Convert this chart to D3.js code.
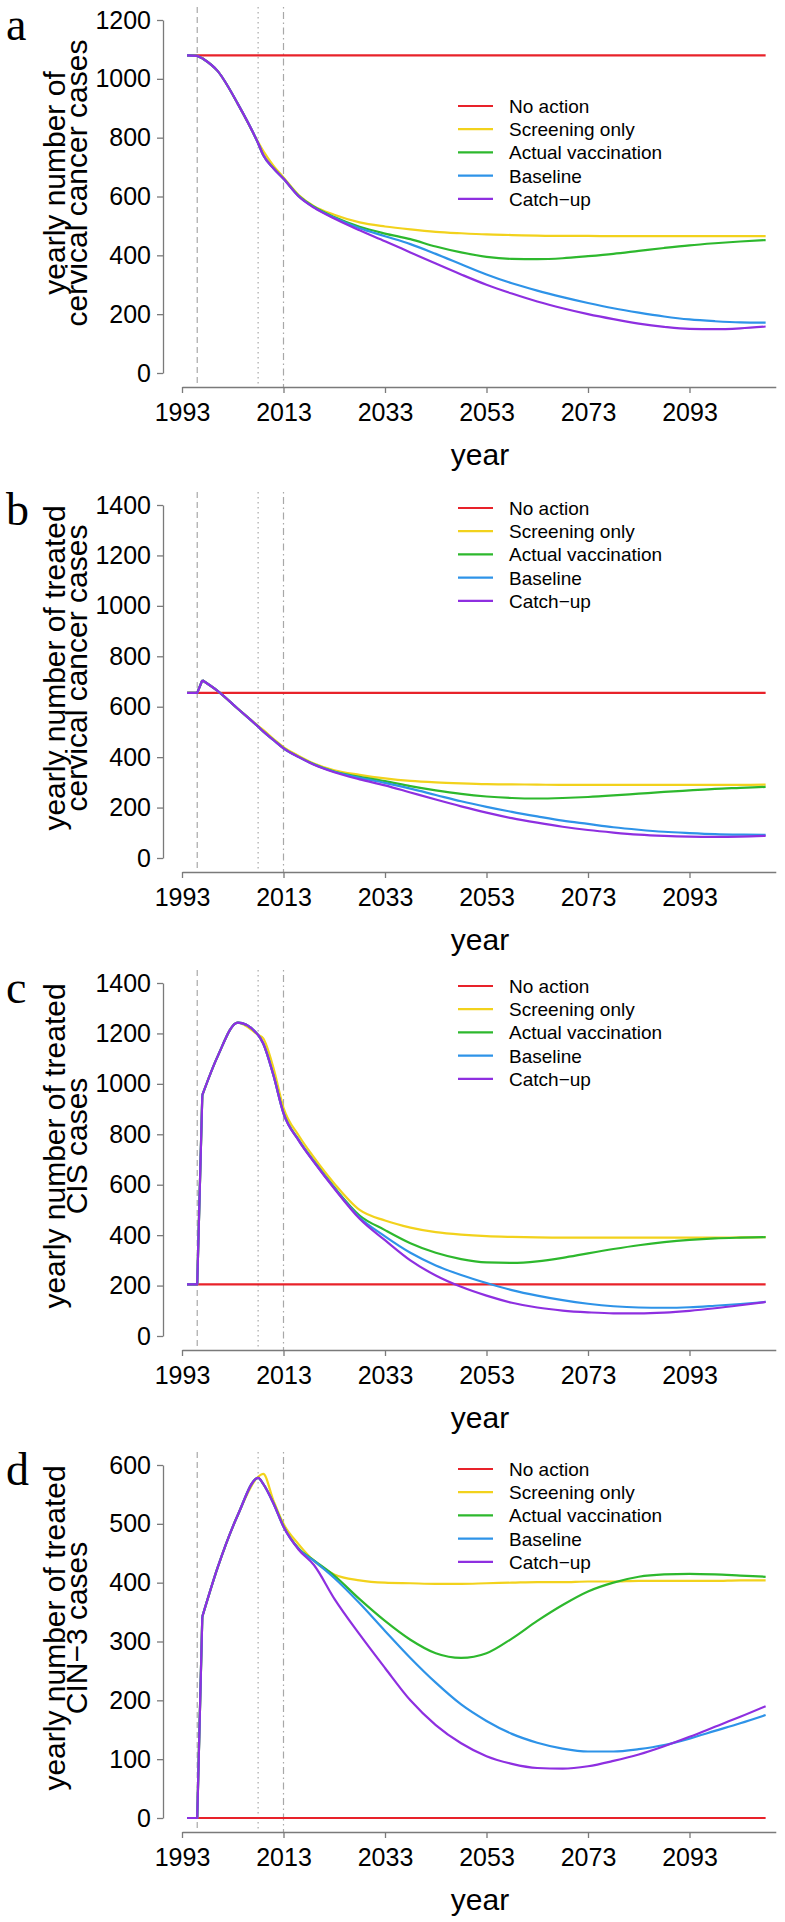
<!DOCTYPE html>
<html lang="en">
<head>
<meta charset="UTF-8">
<title>Cervical cancer scenarios</title>
<script src="https://d3js.org/d3.v7.min.js"></script>
<style>
    body { margin: 0; background: #fff; }
    svg { display: block; }
    .tick text { font-family: "Liberation Sans", Arial, Helvetica, sans-serif; font-size: 25px; fill: #000; }
    .axis path, .axis line { stroke: #7a7a7a; stroke-width: 1.3px; }
    .lab { font-family: "Liberation Sans", Arial, Helvetica, sans-serif; font-size: 30px; fill: #000; }
    .leg { font-family: "Liberation Sans", Arial, Helvetica, sans-serif; font-size: 19px; fill: #000; }
    .letter { font-family: "Liberation Serif", "Times New Roman", serif; font-size: 46px; fill: #000; }
</style>
</head>
<body>
<svg id="chart" width="785" height="1922"></svg>
<script>
// ---- data ----
const years = [1994, 1996, 1997, 2000, 2004, 2008, 2009, 2011, 2013, 2016, 2019, 2023, 2028, 2033,
               2038, 2043, 2048, 2053, 2058, 2063, 2068, 2073, 2078, 2083, 2088, 2093, 2098, 2103, 2108];
const noActionYears = [1994, 2108];

const seriesNames = ["No action", "Screening only", "Actual vaccination", "Baseline", "Catch\u2212up"];
const seriesColors = ["#e8222a", "#f2d21c", "#2db82d", "#2e93e8", "#8e2fe0"];

// panel a: yearly number of cervical cancer cases
const aNoAction = [1080, 1080];
const aScreening = [1080,1078,1070,1027,915,785,755,705,665,605,567,538,512,498,488,480,475,471,469,467,466,466,465,465,465,465,465,465,465];
const aActual    = [1080,1078,1070,1027,915,781,741,697,661,602,565,530,497,474,455,430,410,395,388,387,390,397,405,415,425,434,441,447,452];
const aBaseline  = [1080,1078,1070,1027,915,781,741,696,660,601,563,528,492,465,438,405,370,335,305,280,258,238,220,205,192,182,176,172,171];
const aCatchup   = [1080,1078,1070,1027,915,781,741,696,660,600,562,525,485,448,410,372,335,300,270,243,220,200,183,168,157,150,149,152,158];

// panel b: yearly number of treated cervical cancer cases
const bNoAction = [655, 655];
const bScreening = [655,655,705,663,592,524,508,473,440,405,375,348,330,316,306,300,296,293,292,291,290,290,290,290,290,290,290,290,291];
const bActual    = [655,655,705,663,592,521,502,469,436,401,372,343,322,305,285,268,254,244,238,236,238,242,248,255,262,268,274,278,282];
const bBaseline  = [655,655,705,663,592,521,502,468,435,400,371,342,318,298,275,250,225,203,183,165,148,135,122,112,104,99,95,93,92];
const bCatchup   = [655,655,705,663,592,521,502,468,435,400,370,340,312,288,260,232,205,180,158,140,124,111,101,93,88,85,84,85,88];

// panel c: yearly number of treated CIS cases
const cNoAction = [205, 205];
const cScreening = [205,205,955,1108,1243,1194,1180,1065,905,795,708,605,500,458,430,412,402,396,393,391,390,390,390,390,390,390,390,391,392];
const cActual    = [205,205,955,1108,1243,1194,1160,1036,885,778,693,590,478,420,368,330,305,292,290,296,310,328,345,360,372,381,387,390,392];
const cBaseline  = [205,205,955,1108,1243,1194,1160,1035,883,776,691,587,470,395,330,280,242,210,182,160,142,128,118,113,112,114,120,127,135];
const cCatchup   = [205,205,955,1108,1243,1194,1160,1035,883,775,690,585,465,380,300,240,195,160,132,113,101,94,90,90,93,100,110,122,135];

// panel d: yearly number of treated CIN-3 cases
const dNoAction = [0, 0];
const dScreening = [0,0,342,425,515,580,585,540,500,465,437,414,404,400,399,398,398,399,400,401,401,402,402,403,403,403,403,404,404];
const dActual    = [0,0,342,425,515,578,568,536,496,458,438,412,372,335,303,280,272,280,305,335,362,385,400,410,414,415,414,412,410];
const dBaseline  = [0,0,342,425,515,578,568,535,495,457,437,408,365,318,272,230,193,165,143,128,118,113,113,117,124,135,148,161,175];
const dCatchup   = [0,0,342,425,515,578,568,535,495,456,430,373,312,255,200,158,127,105,92,85,84,88,97,108,122,138,155,172,190];

const xTicks = [1993, 2013, 2033, 2053, 2073, 2093];
const refYears = [1996, 2008, 2013];

const panels = [
    {letter: "a", yMax: 1200, yStep: 200, label: ["yearly number of", "cervical cancer cases"],
     series: [aNoAction, aScreening, aActual, aBaseline, aCatchup]},
    {letter: "b", yMax: 1400, yStep: 200, label: ["yearly number of treated", "cervical cancer cases"],
     series: [bNoAction, bScreening, bActual, bBaseline, bCatchup]},
    {letter: "c", yMax: 1400, yStep: 200, label: ["yearly number of treated", "CIS cases"],
     series: [cNoAction, cScreening, cActual, cBaseline, cCatchup]},
    {letter: "d", yMax: 600, yStep: 100, label: ["yearly number of treated", "CIN\u22123 cases"],
     series: [dNoAction, dScreening, dActual, dBaseline, dCatchup]}
];

// ---- layout ----
const zeroY = [373, 858, 1336, 1818];   // pixel of y = 0 in each panel
const legendTop = [106, 508, 986, 1469];
const plotH = 353;
const pad = 14;
const svg = d3.select("#chart");

let x = d3.scaleLinear().domain([1993, 2110]).range([182, 182 + 117 * 5.075]);

panels.forEach(function (p, i) {
    let y0 = zeroY[i];
    let y = d3.scaleLinear().domain([0, p.yMax]).range([y0, y0 - plotH]);
    let g = svg.append("g");
    // straight start (the step when the programme begins), smooth afterwards
    let straight = d3.line().x(d => x(d[0])).y(d => y(d[1]));
    let smooth = d3.line().x(d => x(d[0])).y(d => y(d[1])).curve(d3.curveMonotoneX);

    // reference years
    let dashes = ["6,4", "1.5,3.5", "1.5,3.5,7,3.5"];
    refYears.forEach(function (yr, k) {
        g.append("line")
            .attr("x1", x(yr)).attr("x2", x(yr))
            .attr("y1", y0 - plotH - 13).attr("y2", y0 + pad)
            .attr("stroke", "#a8a8a8").attr("stroke-width", 1.2)
            .attr("stroke-dasharray", dashes[k]);
    });

    // y axis
    g.append("g").attr("class", "axis")
        .attr("transform", "translate(163,0)")
        .call(d3.axisLeft(y).tickValues(d3.range(0, p.yMax + 1, p.yStep))
            .tickSize(6).tickSizeOuter(0).tickPadding(6).tickFormat(d3.format("d")));

    // x axis
    g.append("g").attr("class", "axis")
        .attr("transform", "translate(0," + (y0 + pad) + ")")
        .call(d3.axisBottom(x).tickValues(xTicks)
            .tickSize(6).tickSizeOuter(0).tickPadding(10).tickFormat(d3.format("d")));

    // series: no action first, catch-up on top
    p.series.forEach(function (vals, k) {
        let col = seriesColors[k];
        if (k === 0) {
            g.append("path").datum(noActionYears.map((yr, j) => [yr, vals[j]]))
                .attr("fill", "none").attr("stroke", col).attr("stroke-width", 2.2)
                .attr("d", straight);
            return;
        }
        let pts = years.map((yr, j) => [yr, vals[j]]);
        g.append("path").datum(pts.slice(0, 3))
            .attr("fill", "none").attr("stroke", col).attr("stroke-width", 2.2)
            .attr("stroke-linejoin", "round").attr("d", straight);
        g.append("path").datum(pts.slice(2))
            .attr("fill", "none").attr("stroke", col).attr("stroke-width", 2.2)
            .attr("stroke-linejoin", "round").attr("d", smooth);
    });

    // legend
    seriesNames.forEach(function (name, k) {
        let ly = legendTop[i] + k * 23.2;
        g.append("line").attr("x1", 458).attr("x2", 493).attr("y1", ly).attr("y2", ly)
            .attr("stroke", seriesColors[k]).attr("stroke-width", 2.2);
        g.append("text").attr("class", "leg").attr("x", 509).attr("y", ly + 7).text(name);
    });

    // axis titles
    g.append("text").attr("class", "lab")
        .attr("x", 480).attr("y", y0 + pad + 78)
        .attr("text-anchor", "middle").text("year");
    p.label.forEach(function (t, k) {
        g.append("text").attr("class", "lab")
            .attr("transform", "translate(" + (65 + 22 * k) + "," + (y0 - 190) + ") rotate(-90)")
            .attr("text-anchor", "middle").text(t);
    });

    g.append("text").attr("class", "letter")
        .attr("x", 6).attr("y", y0 - 333).text(p.letter);
});
</script>
</body>
</html>
